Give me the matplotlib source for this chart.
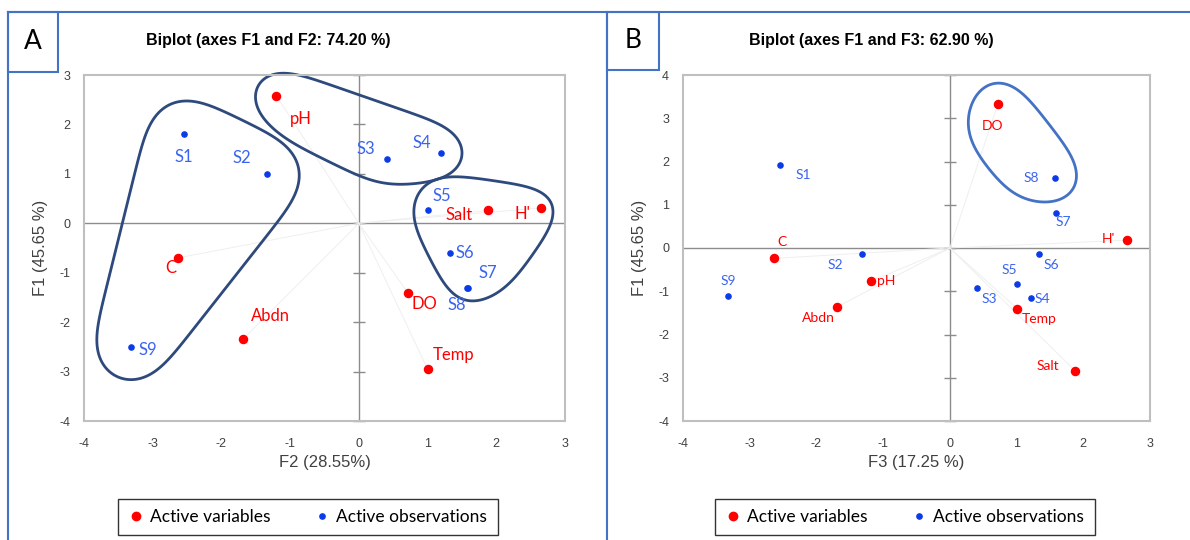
import numpy as np
import matplotlib.pyplot as plt
from matplotlib.lines import Line2D
from matplotlib.patches import Rectangle, Polygon

# ---- data ----
var_names = ['pH', 'C', 'Abdn', 'DO', 'Temp', 'Salt', "H'"]
obs_names = ['S1', 'S2', 'S3', 'S4', 'S5', 'S6', 'S7', 'S8', 'S9']

# panel A (F2 horizontal, F1 vertical)
var_a_x = [-1.20, -2.63, -1.69, 0.72, 1.00, 1.88, 2.65]
var_a_y = [2.58, -0.70, -2.35, -1.42, -2.95, 0.26, 0.31]
obs_a_x = [-2.55, -1.34, 0.41, 1.20, 1.00, 1.32, 1.59, 1.58, -3.32]
obs_a_y = [1.81, 0.99, 1.30, 1.42, 0.26, -0.60, -1.30, -1.31, -2.51]

# panel B (F3 horizontal, F1 vertical)
var_b_x = [-1.18, -2.63, -1.69, 0.72, 1.01, 1.88, 2.65]
var_b_y = [-0.77, -0.24, -1.36, 3.33, -1.40, -2.84, 0.18]
obs_b_x = [-2.54, -1.32, 0.41, 1.21, 1.01, 1.34, 1.59, 1.58, -3.32]
obs_b_y = [1.91, -0.15, -0.92, -1.15, -0.84, -0.15, 0.80, 1.62, -1.10]

# label offsets in pixels (dx right, dy up)
offs_a = {'pH': (24, -23), 'C': (-7, -10), 'Abdn': (28, 23), 'DO': (16, -11),
          'Temp': (26, 14), 'Salt': (-29, -5), "H'": (-19, -6),
          'S1': (0, -23), 'S2': (-25, 16), 'S3': (-21, 10), 'S4': (-20, 10),
          'S5': (14, 14), 'S6': (15, 0), 'S7': (20, 15), 'S8': (-11, -17),
          'S9': (17, -3)}
offs_b = {'pH': (15, 0), 'C': (8, 16), 'Abdn': (-19, -11), 'DO': (-5, -22),
          'Temp': (22, -10), 'Salt': (-27, 5), "H'": (-18, 1),
          'S1': (23, -10), 'S2': (-26, -11), 'S3': (12, -11), 'S4': (12, -1),
          'S5': (-8, 14), 'S6': (12, -11), 'S7': (7, -9), 'S8': (-24, 0),
          'S9': (0, 15)}

# groups circled: (members, labels inside, point pad, label pad)
groups_a = [(['S1', 'S2', 'C', 'S9'], [], 38, 0),
            (['pH', 'S3', 'S4'], ['pH', 'S3', 'S4'], 28, 14),
            (['S5', 'Salt', "H'", 'S6', 'S7', 'S8'],
             ['S5', 'Salt', "H'", 'S6', 'S7'], 20, 14)]
groups_b = [(['DO', 'S8'], ['DO', 'S8'], 28, 18)]

RED = '#FF0000'
BLUE_PT = '#0B3BE8'
BLUE_TXT = '#3A64F0'

plt.rcParams['font.family'] = ['Liberation Sans', 'DejaVu Sans']
plt.rcParams['axes.unicode_minus'] = False
fig = plt.figure(figsize=(11.9, 5.4), dpi=100)


def hull(points):
    pts = sorted(map(tuple, points))

    def cross(o, a, b):
        return (a[0] - o[0]) * (b[1] - o[1]) - (a[1] - o[1]) * (b[0] - o[0])
    lower, upper = [], []
    for p in pts:
        while len(lower) >= 2 and cross(lower[-2], lower[-1], p) <= 0:
            lower.pop()
        lower.append(p)
    for p in reversed(pts):
        while len(upper) >= 2 and cross(upper[-2], upper[-1], p) <= 0:
            upper.pop()
        upper.append(p)
    return np.array(lower[:-1] + upper[:-1])


def smooth_closed(h, step=1.5, sigma=22.0):
    h = np.vstack([h, h[:1]])
    seg = np.hypot(*np.diff(h, axis=0).T)
    s = np.r_[0, np.cumsum(seg)]
    n = int(s[-1] / step)
    step = s[-1] / n
    t = np.linspace(0, s[-1], n, endpoint=False)
    x = np.interp(t, s, h[:, 0])
    y = np.interp(t, s, h[:, 1])
    k = int(3 * sigma / step)
    g = np.exp(-0.5 * (np.arange(-k, k + 1) * step / sigma) ** 2)
    g /= g.sum()
    xs = np.convolve(np.r_[x[-k:], x, x[:k]], g, 'valid')
    ys = np.convolve(np.r_[y[-k:], y, y[:k]], g, 'valid')
    return np.column_stack([xs, ys])


def panel(rect, vx, vy, ox, oy, offs, ylim, xlabel, label_size, groups,
          blob_color, blob_lw):
    ax = fig.add_axes(rect)
    ax.set_xlim(-4, 3)
    ax.set_ylim(*ylim)
    xt = np.arange(-4, 4)
    yt = np.arange(ylim[0], ylim[1] + 1)
    ax.set_xticks(xt)
    ax.set_yticks(yt)
    ax.tick_params(length=0, labelsize=9, labelcolor='#404040')
    ax.tick_params(axis='x', pad=12)
    ax.tick_params(axis='y', pad=10)
    for s in ax.spines.values():
        s.set_color('#BFBFBF')
        s.set_linewidth(1.5)
    ax.axhline(0, color='#8C8C8C', lw=1, zorder=1)
    ax.axvline(0, color='#8C8C8C', lw=1, zorder=1)
    ax.plot(np.zeros(len(yt)), yt, ls='none', marker='_', ms=8,
            color='#8C8C8C', mew=1, clip_on=False, zorder=1)
    for x, y in zip(vx, vy):
        ax.plot([0, x], [0, y], color='#EFEFEF', lw=0.7, zorder=1)
    ax.scatter(vx, vy, s=34, color=RED, zorder=3)
    ax.scatter(ox, oy, s=14, color=BLUE_PT, zorder=3)
    pos, texts = {}, {}
    for n, x, y in zip(var_names, vx, vy):
        pos[n] = (x, y)
        texts[n] = ax.annotate(n, (x, y), xytext=offs[n],
                               textcoords='offset pixels', ha='center',
                               va='center', color=RED, fontsize=label_size,
                               family=['Lato', 'DejaVu Sans'])
    for n, x, y in zip(obs_names, ox, oy):
        pos[n] = (x, y)
        texts[n] = ax.annotate(n, (x, y), xytext=offs[n],
                               textcoords='offset pixels', ha='center',
                               va='center', color=BLUE_TXT,
                               fontsize=label_size,
                               family=['Lato', 'DejaVu Sans'])
    ax.set_xlabel(xlabel, fontsize=12, color='#404040', labelpad=4)
    ax.set_ylabel('F1 (45.65 %)', fontsize=12, color='#404040', labelpad=8)

    # circle the groups: rounded hull around points (and labels), in pixels
    fig.canvas.draw()
    rend = fig.canvas.get_renderer()
    ang = np.linspace(0, 2 * np.pi, 60, endpoint=False)
    for members, labs, rp, rl in groups:
        cloud = []
        for m in members:
            px, py = ax.transData.transform(pos[m])
            cloud += [(px + rp * np.cos(a), py + rp * np.sin(a)) for a in ang]
        for m in labs:
            bb = texts[m].get_window_extent(rend)
            for cx, cy in [(bb.x0, bb.y0), (bb.x1, bb.y0),
                           (bb.x0, bb.y1), (bb.x1, bb.y1)]:
                cloud += [(cx + rl * np.cos(a), cy + rl * np.sin(a))
                          for a in ang]
        h = smooth_closed(hull(cloud))
        d = ax.transData.inverted().transform(h)
        ax.add_patch(Polygon(d, closed=True, fill=False,
                             edgecolor=blob_color, lw=blob_lw,
                             joinstyle='round', zorder=2, clip_on=False))
    return ax


W, H = 1190.0, 540.0


def fr(x0, y0, x1, y1):
    return [x0 / W, 1 - y1 / H, (x1 - x0) / W, (y1 - y0) / H]


ax_a = panel(fr(84, 75, 565, 421), var_a_x, var_a_y, obs_a_x, obs_a_y,
             offs_a, (-4, 3), 'F2 (28.55%)', 12, groups_a, '#2E4A7D', 2.0)
ax_b = panel(fr(683, 75, 1150, 421), var_b_x, var_b_y, obs_b_x, obs_b_y,
             offs_b, (-4, 4), 'F3 (17.25 %)', 10, groups_b, '#4472C4', 2.0)

# titles
fig.text(268 / W, 1 - 40 / H, 'Biplot (axes F1 and F2: 74.20 %)',
         ha='center', va='center', fontsize=11.5, fontweight='bold')
fig.text(871 / W, 1 - 40 / H, 'Biplot (axes F1 and F3: 62.90 %)',
         ha='center', va='center', fontsize=11.5, fontweight='bold')

# panel frame lines and letter boxes
frame = '#4472C4'
for xs, ys in [([8, W], [12, 12]), ([8, 8], [12, H]), ([607, 607], [12, H])]:
    fig.add_artist(Line2D([x / W for x in xs], [1 - y / H for y in ys],
                          color=frame, lw=1.5))
for x0, y0, x1, y1, letter in [(8, 12, 58, 72, 'A'), (607, 12, 659, 70, 'B')]:
    fig.add_artist(Rectangle((x0 / W, 1 - y1 / H), (x1 - x0) / W,
                             (y1 - y0) / H, transform=fig.transFigure,
                             fill=False, edgecolor=frame, lw=1.5))
    fig.text((x0 + x1) / 2 / W, 1 - (y0 + y1) / 2 / H, letter, ha='center',
             va='center', fontsize=19, family=['Lato', 'DejaVu Sans'])

# legends
handles = [Line2D([], [], ls='none', marker='o', ms=6, color=RED),
           Line2D([], [], ls='none', marker='o', ms=3.8, color=BLUE_PT)]
for cx in (308, 905):
    leg = fig.legend(handles, ['Active variables', 'Active observations'],
                     loc='center', bbox_to_anchor=(cx / W, 1 - 517 / H),
                     ncol=2, frameon=True, fancybox=False, handlelength=0.8,
                     handletextpad=0.4, columnspacing=2.6, borderpad=0.6,
                     borderaxespad=0, prop={'family': ['Lato', 'DejaVu Sans'],
                                            'size': 12.5})
    leg.get_frame().set_edgecolor('black')
    leg.get_frame().set_linewidth(1)

fig.savefig('out.png', dpi=100)
